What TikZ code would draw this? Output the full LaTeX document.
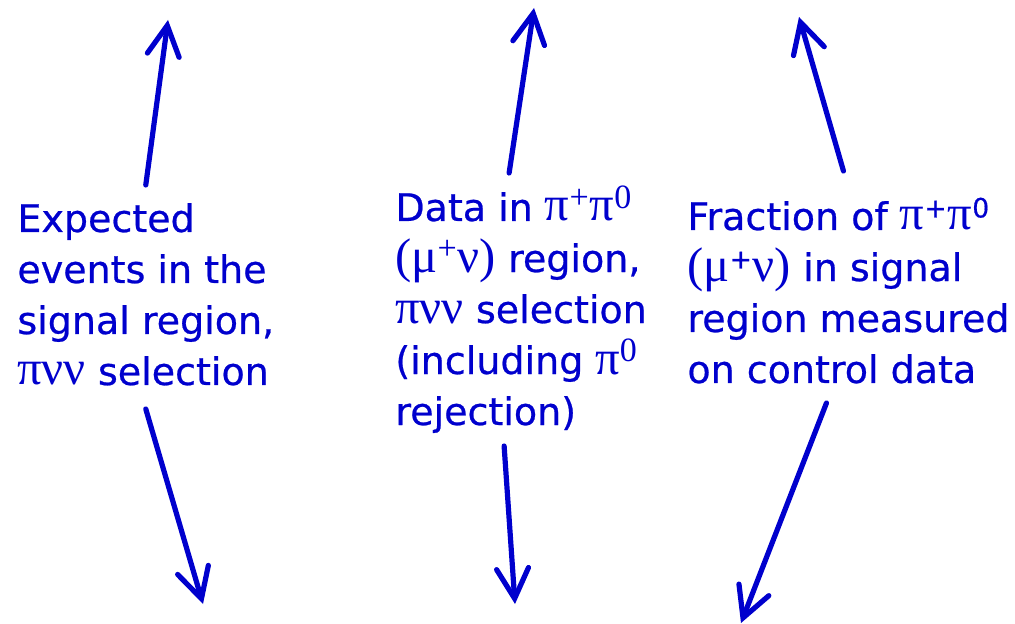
\documentclass[tikz,border=0pt]{standalone}
\usepackage{fontspec}
\setmainfont[FakeBold=0.6]{DejaVu Sans}
\newfontfamily\greekfont[Scale=1.28]{Liberation Serif}
\usetikzlibrary{arrows.meta}
\definecolor{slideblue}{RGB}{0,0,205}
\newcommand{\gk}[1]{{\greekfont #1}}

\begin{document}
\begin{tikzpicture}[x=0.5pt,y=-0.5pt,>={Straight Barb[length=15pt,width=16pt,line cap=round]},
  lbl/.style={anchor=base west,align=left,inner sep=0pt,text=slideblue,font=\fontsize{19}{25.5}\selectfont},
  arr/.style={->,slideblue,line width=2.6pt,line cap=round}]
  \useasboundingbox (0,0) rectangle (1015,624);
  % the three text blocks (placed at the baseline of their last line)
  \node[lbl] (expected) at (17,385) {Expected\\events in the\\signal region,\\\gk{πνν} selection};
  \node[lbl] (data) at (395,425) {Data in \gk{π\textsuperscript{+}π\textsuperscript{0}}\\\gk{(μ\textsuperscript{+}ν)} region,\\\gk{πνν} selection\\(including \gk{π\textsuperscript{0}}\\rejection)};
  \node[lbl] (fraction) at (687,383) {Fraction of \gk{π}\textsuperscript{+}\gk{π}\textsuperscript{0}\\\gk{(μ}\textsuperscript{+}\gk{ν)} in signal\\region measured\\on control data};
  % free ends of the arrows
  \coordinate (upA) at (168,20);
  \coordinate (upB) at (534,8);
  \coordinate (upC) at (799,17);
  \coordinate (downA) at (203,604);
  \coordinate (downB) at (515,604);
  \coordinate (downC) at (741,623);
  \draw[arr] ([yshift=100pt]expected.base) -- (upA);
  \draw[arr] ([xshift=-6pt,yshift=126pt]data.base) -- (upB);
  \draw[arr] ([xshift=-2.5pt,yshift=106pt]fraction.base) -- (upC);
  \draw[arr] ([yshift=-12pt]expected.base) -- (downA);
  \draw[arr] ([xshift=-8.5pt,yshift=-10.5pt]data.base) -- (downB);
  \draw[arr] ([xshift=-11pt,yshift=-10pt]fraction.base) -- (downC);
\end{tikzpicture}
\end{document}
